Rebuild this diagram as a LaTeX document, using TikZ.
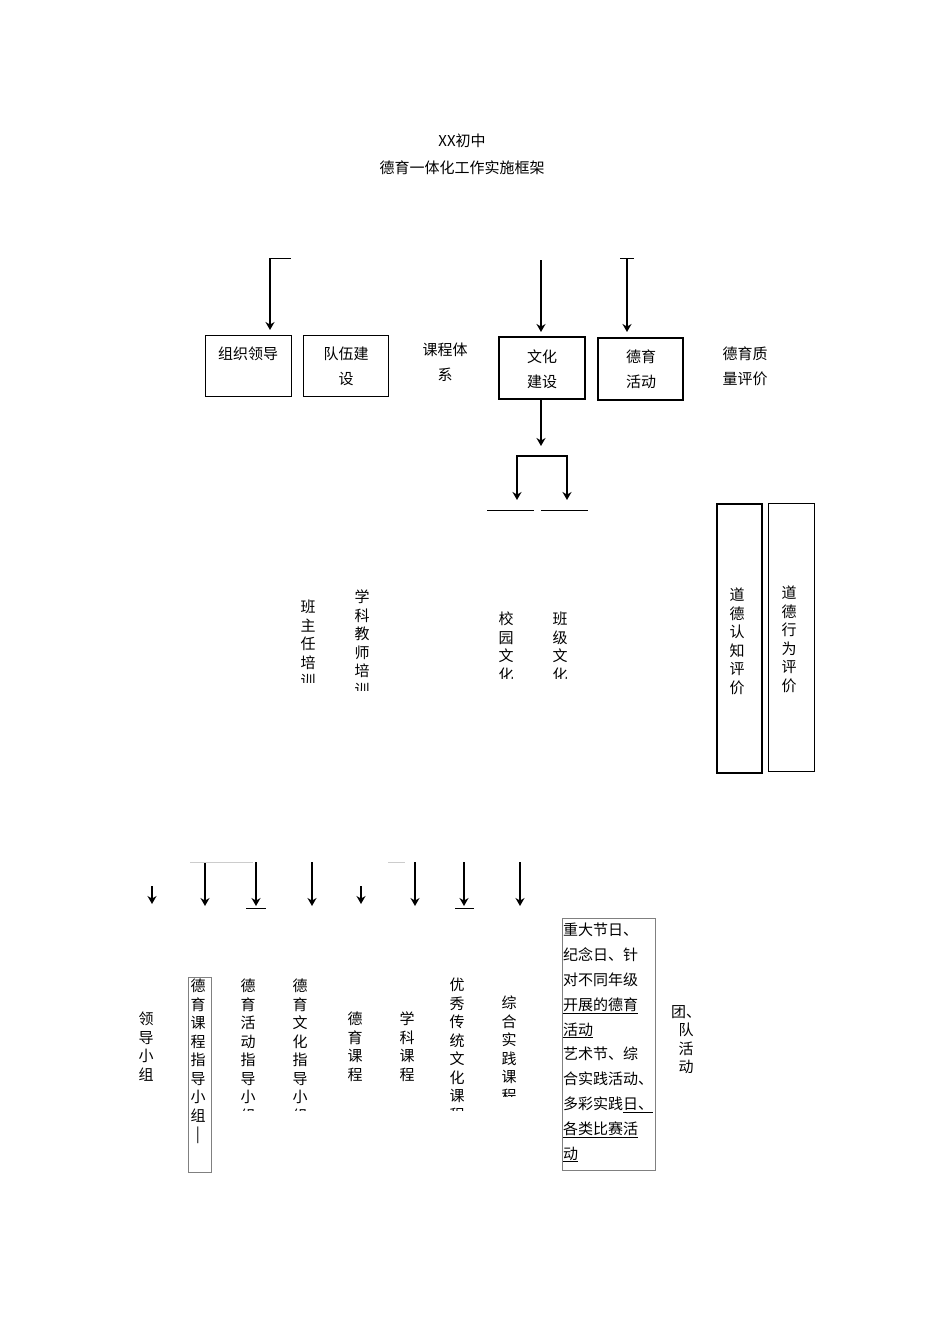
\documentclass[tikz,border=0pt]{standalone}
\usepackage{fontspec}
\setmainfont{Noto Sans CJK SC}
\usetikzlibrary{arrows.meta}
\begin{document}
\begin{tikzpicture}[x=1pt,y=-1pt,
  arr/.style={-{Stealth[length=8pt,width=9pt]},line width=1.6pt},
  bx/.style={draw,line width=1pt},
  tk/.style={draw=black,line width=0.6pt},
  vt/.style={anchor=north,font=\fontsize{15}{18.5}\selectfont,align=center,inner sep=0pt},
  ht/.style={font=\fontsize{15}{25}\selectfont,inner sep=0pt}]
\useasboundingbox (0,0) rectangle (950,1344);
\node[ht,anchor=center] (t1) at (462,141) {XX初中};
\node[ht,anchor=center] (t2) at (462,168) {德育一体化工作实施框架};
% top boxes
\draw[bx] (205,335) rectangle (291,396);
\node[ht] (b1) at (248,354) {组织领导};
\draw[bx] (303,335) rectangle (388,396);
\node[ht,align=center] (b2) at (346,366) {队伍建\\设};
\node[ht,align=center] (b3) at (445,362) {课程体\\系};
\draw[bx,line width=1.3pt] (499,337) rectangle (585,399);
\node[ht,align=center] (b4) at (542,369) {文化\\建设};
\draw[bx,line width=1.6pt] (598,338) rectangle (683,400);
\node[ht,align=center] (b5) at (641,369) {德育\\活动};
\node[ht,align=center] (b6) at (745,366) {德育质\\量评价};
\coordinate (a1) at (270,258); \coordinate (a1e) at (270,330);
\draw[arr] (a1) -- (a1e); \draw[tk] (a1) -- (291,258);
\coordinate (a2) at (541,260); \coordinate (a2e) at (541,332); \draw[arr] (a2) -- (a2e);
\coordinate (a3) at (627,258); \coordinate (a3e) at (627,332); \draw[arr] (a3) -- (a3e); \draw[tk] (620,258)--(634,258);
\coordinate (a4) at (541,400); \coordinate (a4e) at (541,446); \draw[arr] (a4) -- (a4e);
\draw[arr] (517,456) -- (567,456) -- (567,500);
\draw[arr] (567,456) -- (517,456) -- (517,500);
\draw[tk] (487,510)--(534,510); \draw[tk] (541,510)--(588,510);
% vertical texts middle
\begin{scope}\clip (280,590) rectangle (400,682);
\node[vt] (m1) at (308,600) {班\\主\\任\\培\\训};\end{scope}
\begin{scope}\clip (330,580) rectangle (400,690);
\node[vt] (m2) at (362,590) {学\\科\\教\\师\\培\\训};\end{scope}
\begin{scope}\clip (480,600) rectangle (600,678);
\node[vt] (m3) at (506,612) {校\\园\\文\\化};
\node[vt] (m4) at (560,612) {班\\级\\文\\化};\end{scope}
\draw[bx,line width=1.6pt] (717,504) rectangle (762,773);
\node[vt] (e1) at (737,588) {道\\德\\认\\知\\评\\价};
\draw[bx] (768,503) rectangle (814,771);
\node[vt] (e2) at (789,586) {道\\德\\行\\为\\评\\价};
% bottom arrows
\foreach \x in {152,361}{\draw[arr] (\x,886) -- (\x,904);}
\foreach \x in {205,256,312,415,464,520}{\draw[arr] (\x,862) -- (\x,906);}
\draw[draw=gray!40,line width=0.6pt] (190,862)--(253,862);
\draw[draw=gray!40,line width=0.6pt] (388,862)--(405,862);
\draw[tk] (246,908)--(266,908); \draw[tk] (455,908)--(474,908);
% bottom texts
\node[vt] (n1) at (146,1012) {领\\导\\小\\组};
\draw[draw=gray,line width=0.8pt] (188,977) rectangle (211,1172);
\node[vt] (n2) at (198,979) {德\\育\\课\\程\\指\\导\\小\\组\\|};
\begin{scope}\clip (230,970) rectangle (330,1110);
\node[vt] (n3) at (248,979) {德\\育\\活\\动\\指\\导\\小\\组};
\node[vt] (n4) at (300,979) {德\\育\\文\\化\\指\\导\\小\\组};\end{scope}
\node[vt] (n5) at (355,1012) {德\\育\\课\\程};
\node[vt] (n6) at (407,1012) {学\\科\\课\\程};
\begin{scope}\clip (440,970) rectangle (530,1110);
\node[vt] (n7) at (457,978) {优\\秀\\传\\统\\文\\化\\课\\程};\end{scope}
\begin{scope}\clip (490,990) rectangle (530,1096);
\node[vt] (n8) at (509,996) {综\\合\\实\\践\\课\\程};\end{scope}
\draw[draw=gray,line width=0.8pt] (562,918) rectangle (655,1170);
\node[anchor=north west,inner sep=0pt,font=\fontsize{15}{24.8}\selectfont,align=left] (n9) at (563,923)
{重大节日、\\纪念日、针\\对不同年级\\\underline{开展的德育}\\\underline{活动}\\艺术节、综\\合实践活动、\\多彩实践\underline{日、}\\\underline{各类比赛活}\\\underline{动}};
\node[vt] (n10) at (686,1005) {团、\\队\\活\\动};
\end{tikzpicture}
\end{document}
